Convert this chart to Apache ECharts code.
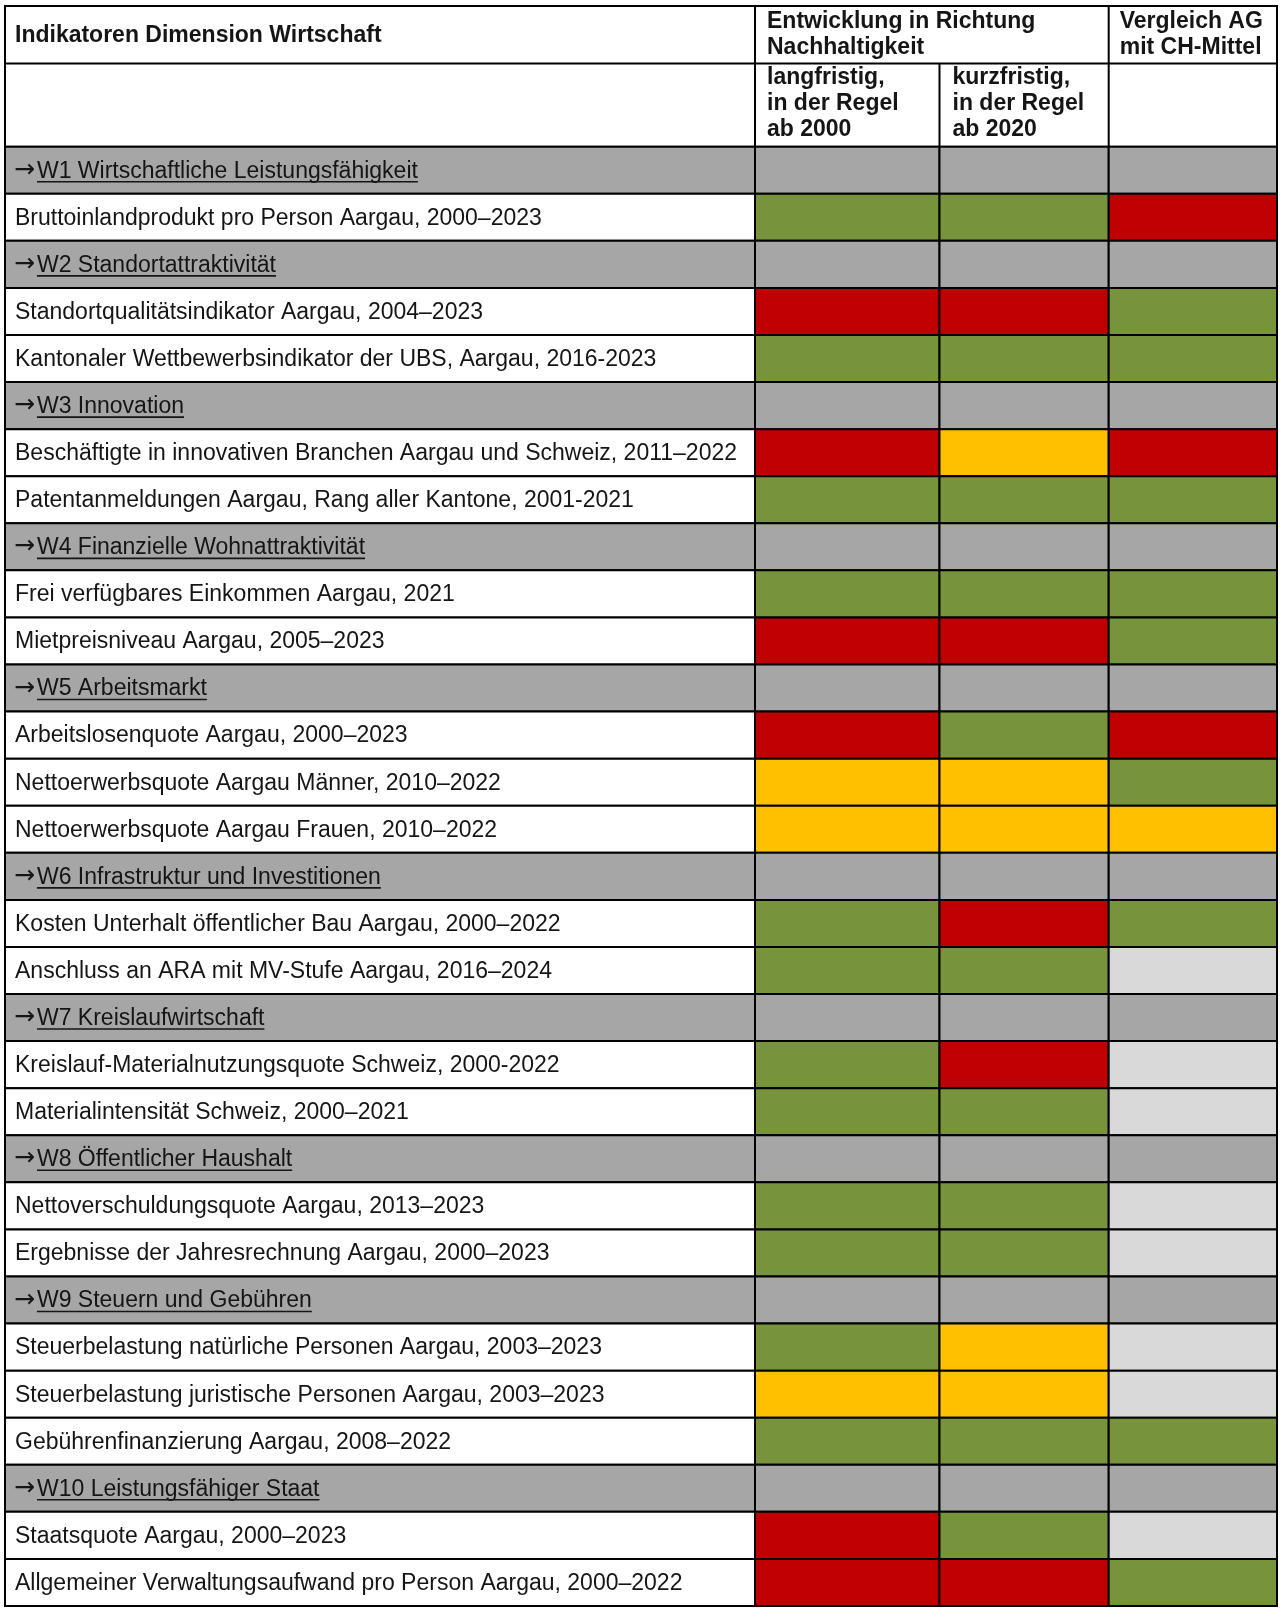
<!DOCTYPE html>
<html>
<head>
<meta charset="utf-8">
<script src="https://cdn.jsdelivr.net/npm/echarts@6/dist/echarts.min.js"></script>
<style>
  html, body { margin: 0; padding: 0; background: #fff; }
  #chart { width: 1280px; height: 1608px; }
</style>
</head>
<body>
<div id="chart"></div>
<script>
// Zeilen der Tabelle (Abschnitte beginnen mit →)
const rowLabels = [
  '→W1 Wirtschaftliche Leistungsfähigkeit',
  'Bruttoinlandprodukt pro Person Aargau, 2000–2023',
  '→W2 Standortattraktivität',
  'Standortqualitätsindikator Aargau, 2004–2023',
  'Kantonaler Wettbewerbsindikator der UBS, Aargau, 2016-2023',
  '→W3 Innovation',
  'Beschäftigte in innovativen Branchen Aargau und Schweiz, 2011–2022',
  'Patentanmeldungen Aargau, Rang aller Kantone, 2001-2021',
  '→W4 Finanzielle Wohnattraktivität',
  'Frei verfügbares Einkommen Aargau, 2021',
  'Mietpreisniveau Aargau, 2005–2023',
  '→W5 Arbeitsmarkt',
  'Arbeitslosenquote Aargau, 2000–2023',
  'Nettoerwerbsquote Aargau Männer, 2010–2022',
  'Nettoerwerbsquote Aargau Frauen, 2010–2022',
  '→W6 Infrastruktur und Investitionen',
  'Kosten Unterhalt öffentlicher Bau Aargau, 2000–2022',
  'Anschluss an ARA mit MV-Stufe Aargau, 2016–2024',
  '→W7 Kreislaufwirtschaft',
  'Kreislauf-Materialnutzungsquote Schweiz, 2000-2022',
  'Materialintensität Schweiz, 2000–2021',
  '→W8 Öffentlicher Haushalt',
  'Nettoverschuldungsquote Aargau, 2013–2023',
  'Ergebnisse der Jahresrechnung Aargau, 2000–2023',
  '→W9 Steuern und Gebühren',
  'Steuerbelastung natürliche Personen Aargau, 2003–2023',
  'Steuerbelastung juristische Personen Aargau, 2003–2023',
  'Gebührenfinanzierung Aargau, 2008–2022',
  '→W10 Leistungsfähiger Staat',
  'Staatsquote Aargau, 2000–2023',
  'Allgemeiner Verwaltungsaufwand pro Person Aargau, 2000–2022'
]

// Bewertung: g = positiv, y = neutral, r = negativ, n = kein Vergleich, '' = Abschnitt
const langfristig = ['', 'g', '', 'r', 'g', '', 'r', 'g', '', 'g', 'r', '', 'r', 'y', 'y', '', 'g', 'g', '', 'g', 'g', '', 'g', 'g', '', 'g', 'y', 'g', '', 'r', 'r']
const kurzfristig = ['', 'g', '', 'r', 'g', '', 'y', 'g', '', 'g', 'r', '', 'g', 'y', 'y', '', 'r', 'g', '', 'r', 'g', '', 'g', 'g', '', 'y', 'y', 'g', '', 'g', 'r']
const vergleich = ['', 'r', '', 'g', 'g', '', 'r', 'g', '', 'g', 'g', '', 'r', 'g', 'y', '', 'g', 'n', '', 'n', 'n', '', 'n', 'n', '', 'n', 'n', 'g', '', 'n', 'g']

const headerTitle = 'Indikatoren Dimension Wirtschaft'
const headerGroup = 'Entwicklung in Richtung\nNachhaltigkeit'
const headerCompare = 'Vergleich AG\nmit CH-Mittel'
const headerLong = 'langfristig,\nin der Regel\nab 2000'
const headerShort = 'kurzfristig,\nin der Regel\nab 2020'

const statusColors = {
  g: '#77933c',
  y: '#ffc000',
  r: '#c00000',
  n: '#d9d9d9',
  '': '#a6a6a6'
}

// Layout
const colEdges = [5, 755, 939.5, 1108.7, 1277]
const tableTop = 6
const headerMid = 63.6
const headerBottom = 146.7
const tableBottom = 1606
const font = '"Liberation Sans", Arial, sans-serif'
const arrowFont = '25px "DejaVu Sans", sans-serif'
const fontSize = 23
const lineColor = '#000'
const textColor = '#151515'

const measureCtx = document.createElement('canvas').getContext('2d')
function textWidth(s, f) {
  measureCtx.font = f
  return measureCtx.measureText(s).width
}
const arrowWidth = textWidth('→', arrowFont) + 2

const rowIds = rowLabels.map((item, index) => index)
const columns = [rowLabels, langfristig, kurzfristig, vergleich]

const grids = []
const xAxes = []
const yAxes = []
const series = []
columns.forEach((col, c) => {
  grids.push({
    left: colEdges[c],
    top: headerBottom,
    width: colEdges[c + 1] - colEdges[c],
    height: tableBottom - headerBottom
  })
  xAxes.push({ type: 'category', gridIndex: c, data: ['x'], show: false })
  yAxes.push({ type: 'category', gridIndex: c, data: rowIds, inverse: true, show: false })
  series.push({
    type: 'custom',
    xAxisIndex: c,
    yAxisIndex: c,
    silent: true,
    data: col.map((v, i) => [0, i]),
    renderItem: function(params, api) {
      const i = api.value(1)
      const center = api.coord([0, i])
      const size = api.size([1, 1])
      const x0 = center[0] - size[0] / 2
      const y0 = center[1] - size[1] / 2
      const label = rowLabels[i]
      const isSection = label.charAt(0) === '→'
      let fill
      if (c === 0) {
        fill = isSection ? statusColors[''] : '#fff'
      } else {
        fill = statusColors[col[i]]
      }
      const children = [{
        type: 'rect',
        shape: { x: x0, y: y0, width: size[0], height: size[1] },
        style: { fill: fill, stroke: lineColor, lineWidth: 2 }
      }]
      if (c === 0) {
        const tx = x0 + 9
        const ty = center[1] + 1
        if (isSection) {
          // Pfeil separat, Rest unterstrichen
          const rest = label.slice(1)
          const start = tx + arrowWidth
          children.push({
            type: 'text',
            style: {
              x: tx, y: ty - 1, text: '→', font: arrowFont, fill: textColor,
              verticalAlign: 'middle', align: 'left'
            }
          })
          children.push({
            type: 'text',
            style: {
              x: start, y: ty, text: rest, font: fontSize + 'px ' + font, fill: textColor,
              verticalAlign: 'middle', align: 'left'
            }
          })
          const end = start + textWidth(rest, fontSize + 'px ' + font)
          children.push({
            type: 'line',
            shape: { x1: start, y1: ty + 10.5, x2: end, y2: ty + 10.5 },
            style: { stroke: textColor, lineWidth: 1.6 }
          })
        } else {
          children.push({
            type: 'text',
            style: {
              x: tx + 1, y: ty, text: label, font: fontSize + 'px ' + font, fill: textColor,
              verticalAlign: 'middle', align: 'left'
            }
          })
        }
      }
      return { type: 'group', children: children }
    }
  })
})

const headerFont = 'bold ' + fontSize + 'px ' + font
function headerText(s, x, y, va) {
  return {
    type: 'text',
    style: {
      x: x, y: y, text: s, font: headerFont, fill: textColor,
      lineHeight: 26, verticalAlign: va || 'top', align: 'left'
    }
  }
}

const graphic = [
  {
    type: 'rect',
    shape: { x: colEdges[0], y: tableTop, width: colEdges[4] - colEdges[0], height: headerBottom - tableTop },
    style: { fill: '#fff', stroke: lineColor, lineWidth: 2 }
  },
  {
    type: 'line',
    shape: { x1: colEdges[0], y1: headerMid, x2: colEdges[4], y2: headerMid },
    style: { stroke: lineColor, lineWidth: 2 }
  },
  {
    type: 'line',
    shape: { x1: colEdges[1], y1: tableTop, x2: colEdges[1], y2: headerBottom },
    style: { stroke: lineColor, lineWidth: 2 }
  },
  {
    type: 'line',
    shape: { x1: colEdges[3], y1: tableTop, x2: colEdges[3], y2: headerBottom },
    style: { stroke: lineColor, lineWidth: 2 }
  },
  {
    type: 'line',
    shape: { x1: colEdges[2], y1: headerMid, x2: colEdges[2], y2: headerBottom },
    style: { stroke: lineColor, lineWidth: 2 }
  },
  headerText(headerTitle, colEdges[0] + 10, (tableTop + headerMid) / 2 + 1, 'middle'),
  headerText(headerGroup, colEdges[1] + 12, tableTop + 3),
  headerText(headerCompare, colEdges[3] + 11, tableTop + 3),
  headerText(headerLong, colEdges[1] + 12, headerMid + 1.5),
  headerText(headerShort, colEdges[2] + 13, headerMid + 1.5)
]

const myChart = echarts.init(document.getElementById('chart'))
myChart.setOption({
  animation: false,
  backgroundColor: '#fff',
  grid: grids,
  xAxis: xAxes,
  yAxis: yAxes,
  series: series,
  graphic: graphic
})
</script>
</body>
</html>
